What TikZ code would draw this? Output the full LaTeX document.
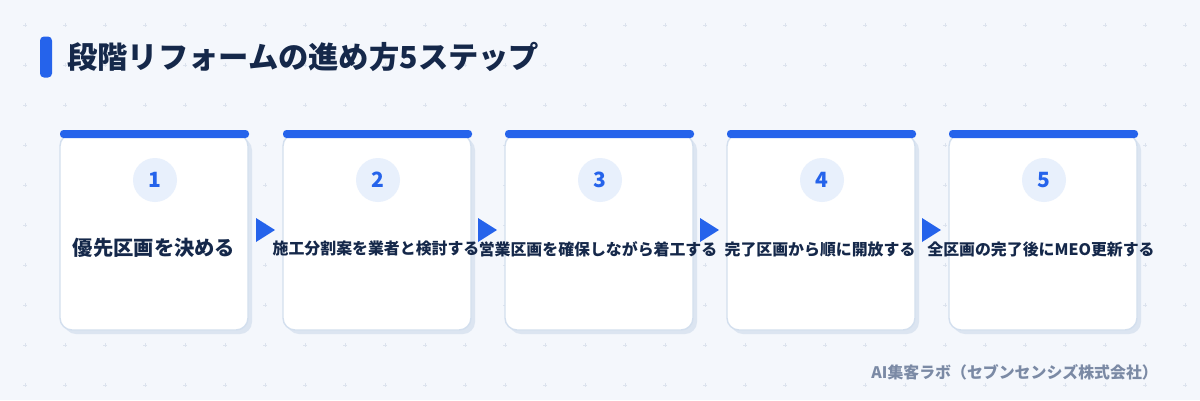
\documentclass[tikz,border=0pt]{standalone}
\usepackage{fontspec}
\setmainfont{Noto Sans CJK JP}
\usetikzlibrary{shadows}
\definecolor{bgc}{HTML}{F4F7FC}
\definecolor{dotc}{HTML}{DCE3EE}
\definecolor{bluec}{HTML}{2563EB}
\definecolor{borderc}{HTML}{D3DFEE}
\definecolor{shadowc}{HTML}{DCE5F1}
\definecolor{circc}{HTML}{E8F0FC}
\definecolor{textc}{HTML}{15284A}
\definecolor{footc}{HTML}{7B8AA5}
\tikzset{
  cardbox/.style={draw=borderc, line width=1.4pt, fill=white, rounded corners=12pt,
    minimum width=188pt, minimum height=196pt, inner sep=0pt,
    drop shadow={shadow xshift=4pt, shadow yshift=-4pt, opacity=1, fill=shadowc}},
  topbar/.style={fill=bluec, rounded corners=3.5pt, minimum width=189pt, minimum height=8pt, inner sep=0pt},
  numcirc/.style={circle, fill=circc, minimum size=44pt, inner sep=0pt, text=bluec,
    font=\fontsize{21pt}{21pt}\selectfont\bfseries},
  steptext/.style={text=textc, font=\fontsize{15.9pt}{16pt}\selectfont\bfseries, inner sep=0pt},
  bigtext/.style={text=textc, font=\fontsize{20.3pt}{21pt}\selectfont\bfseries, inner sep=0pt},
  arrowtri/.style={fill=bluec},
}
\begin{document}
\begin{tikzpicture}[x=1pt,y=-1pt]
\fill[bgc] (0,0) rectangle (1200,400);
\useasboundingbox (0,0) rectangle (1200,400);
% background plus marks
\foreach \i in {0,...,29}{
  \foreach \j in {0,...,9}{
    \draw[dotc, line width=0.8pt] ({25+40*\i-2},{25+40*\j}) -- ({25+40*\i+2},{25+40*\j})
      ({25+40*\i},{25+40*\j-2}) -- ({25+40*\i},{25+40*\j+2});
  }
}
% title
\node[fill=bluec, rounded corners=4pt, minimum width=12pt, minimum height=41pt, inner sep=0pt] (pill) at (46,57) {};
\node[anchor=west, text=textc, font=\fontsize{30.3pt}{31pt}\selectfont\bfseries, inner sep=0pt] (title) at (67,57) {段階リフォームの進め方5ステップ};
% cards
\foreach \k/\cx in {1/154,2/377,3/599,4/821,5/1043}{
  \node[cardbox] (card\k) at (\cx,232) {};
  \node[topbar] (bar\k) at (\cx+0.5,134) {};
  \node[numcirc] (num\k) at (\cx+1,180) {\k};
}
% arrows
\foreach \ax in {256,478,700,922}{
  \fill[arrowtri] (\ax,218) -- (\ax+19,230) -- (\ax,242) -- cycle;
}
% texts
\node[bigtext] (t1) at (154,248) {優先区画を決める};
\node[steptext] (t2) at (376,249) {施工分割案を業者と検討する};
\node[steptext] (t3) at (598,249) {営業区画を確保しながら着工する};
\node[steptext] (t4) at (820,249) {完了区画から順に開放する};
\node[steptext] (t5) at (1041,249) {全区画の完了後にMEO更新する};
% footer
\node[anchor=east, text=footc, font=\fontsize{15.9pt}{16pt}\selectfont\bfseries, inner sep=0pt] (foot) at (1158,372) {AI集客ラボ（セブンセンシズ株式会社）};
\end{tikzpicture}
\end{document}
